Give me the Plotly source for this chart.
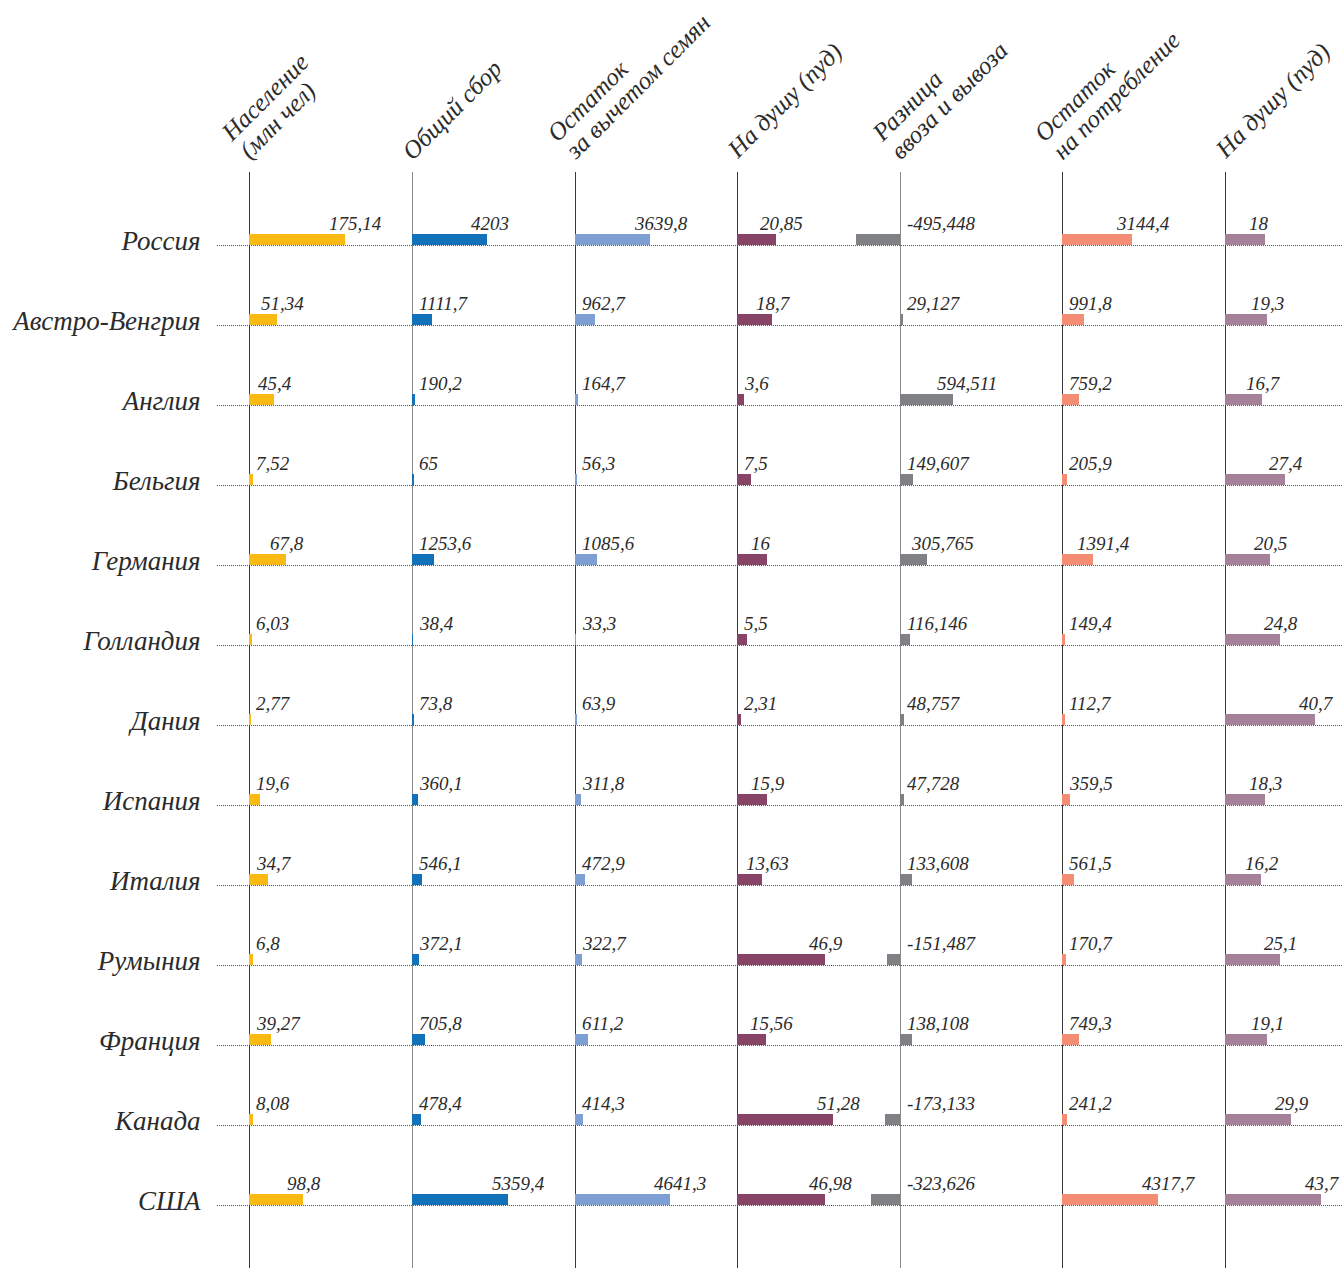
import plotly.graph_objects as go

# ---------------- data ----------------
countries = ["Россия", "Австро-Венгрия", "Англия", "Бельгия", "Германия", "Голландия",
             "Дания", "Испания", "Италия", "Румыния", "Франция", "Канада", "США"]
population = [175.14, 51.34, 45.4, 7.52, 67.8, 6.03, 2.77, 19.6, 34.7, 6.8, 39.27, 8.08, 98.8]
total_harvest = [4203, 1111.7, 190.2, 65, 1253.6, 38.4, 73.8, 360.1, 546.1, 372.1, 705.8, 478.4, 5359.4]
net_of_seed = [3639.8, 962.7, 164.7, 56.3, 1085.6, 33.3, 63.9, 311.8, 472.9, 322.7, 611.2, 414.3, 4641.3]
per_capita_harvest = [20.85, 18.7, 3.6, 7.5, 16, 5.5, 2.31, 15.9, 13.63, 46.9, 15.56, 51.28, 46.98]
import_export_diff = [-495.448, 29.127, 594.511, 149.607, 305.765, 116.146, 48.757, 47.728,
                      133.608, -151.487, 138.108, -173.133, -323.626]
for_consumption = [3144.4, 991.8, 759.2, 205.9, 1391.4, 149.4, 112.7, 359.5, 561.5, 170.7, 749.3, 241.2, 4317.7]
per_capita_consumption = [18, 19.3, 16.7, 27.4, 20.5, 24.8, 40.7, 18.3, 16.2, 25.1, 19.1, 29.9, 43.7]

headers = [["Население", "(млн чел)"], ["Общий сбор"], ["Остаток", "за вычетом семян"],
           ["На душу (пуд)"], ["Разница", "ввоза и вывоза"], ["Остаток", "на потребление"],
           ["На душу (пуд)"]]
series = [population, total_harvest, net_of_seed, per_capita_harvest,
          import_export_diff, for_consumption, per_capita_consumption]

# ---------------- styling / layout ----------------
colors = ["#FBB914", "#1172BA", "#7E9FD4", "#874466", "#808184", "#F58D74", "#A6829A"]
axis_colors = ["#3a3a3a", "#8a8a8a", "#3a3a3a", "#3a3a3a", "#8a8a8a", "#3a3a3a", "#3a3a3a"]
W, H = 1342, 1268
TOP = 172
axis_px = [249, 412, 575, 737, 900, 1062, 1225]
px_per_unit = [0.548, 0.0179, 0.0205, 1.866, 0.0883, 0.02214, 2.2]
left_pad = [6, 6, 6, 6, 70, 6, 6]
right_ext = [160, 160, 160, 160, 160, 160, 200]

FONT = "Liberation Serif"
TXT = "#2b2b2b"
n = len(countries)
y_range = [n - 1 + (1268 - 1205) / 80, -(245 - 172) / 80]
bar_h = 11 / 80

fig = go.Figure()
annotations = []
layout_axes = {}

for k in range(7):
    xa = f"x{k + 2}"
    ya = f"y{k + 2}"
    s = px_per_unit[k]
    lo = axis_px[k] - left_pad[k]
    hi = min(axis_px[k] + right_ext[k], W)
    layout_axes[f"xaxis{k + 2}"] = dict(
        domain=[lo / W, hi / W], range=[-left_pad[k] / s, (hi - axis_px[k]) / s],
        anchor=ya, showgrid=False, showticklabels=False, ticks="", showline=False,
        zeroline=True, zerolinecolor=axis_colors[k], zerolinewidth=1.2, fixedrange=True)
    layout_axes[f"yaxis{k + 2}"] = dict(
        domain=[0, 1], range=y_range, type="category", categoryorder="array",
        categoryarray=countries, anchor=xa, visible=False, showgrid=False, fixedrange=True)
    vals = series[k]
    fig.add_trace(go.Bar(
        x=vals, y=countries, orientation="h", width=bar_h, offset=-bar_h,
        marker=dict(color=colors[k], line=dict(width=0)),
        xaxis=xa, yaxis=ya, showlegend=False, hoverinfo="x+y"))
    min_x = 23 / s
    for c, v in zip(countries, vals):
        txt = f"{v:g}".replace(".", ",")
        annotations.append(dict(
            x=max(v, min_x) if v >= 0 else min_x, y=c, xref=xa, yref=ya,
            xanchor="left", yanchor="bottom", xshift=-18, yshift=9,
            text=txt, showarrow=False,
            font=dict(family=FONT, size=19, color=TXT, style="italic")))
    # rotated column headers
    lines = headers[k]
    m = len(lines)
    for i, line in enumerate(lines):
        step = (m - 1 - i) * 18
        annotations.append(dict(
            x=0, y=1, xref=xa, yref="paper", xanchor="left", yanchor="bottom",
            xshift=-18 - step, yshift=5 + step,
            text=line, textangle=-45, showarrow=False,
            font=dict(family=FONT, size=25, color=TXT, style="italic")))

# background axis carrying the country labels and dotted guide lines
fig.add_trace(go.Scatter(x=[0] * n, y=countries, mode="markers", marker=dict(opacity=0),
                         xaxis="x", yaxis="y", showlegend=False, hoverinfo="skip"))

fig.update_layout(
    width=W, height=H,
    margin=dict(l=0, r=0, t=TOP, b=0),
    paper_bgcolor="white", plot_bgcolor="rgba(0,0,0,0)",
    xaxis=dict(domain=[217 / W, 1], range=[0, 1], visible=False, anchor="y",
               fixedrange=True),
    yaxis=dict(domain=[0, 1], range=y_range, type="category", categoryorder="array",
               categoryarray=countries, anchor="x", showgrid=True, gridcolor="#555555",
               griddash="1px,1px", gridwidth=1, zeroline=False, showline=False,
               ticks="outside", ticklen=10, tickcolor="rgba(0,0,0,0)", ticklabelshift=4,
               tickfont=dict(family=FONT, size=27, color=TXT, style="italic"),
               fixedrange=True),
    annotations=annotations,
    bargap=0, showlegend=False,
    **layout_axes,
)

fig.write_html("out.html", config={"displayModeBar": False},
               post_script="document.body.style.margin='0';document.body.style.overflow='hidden';")
